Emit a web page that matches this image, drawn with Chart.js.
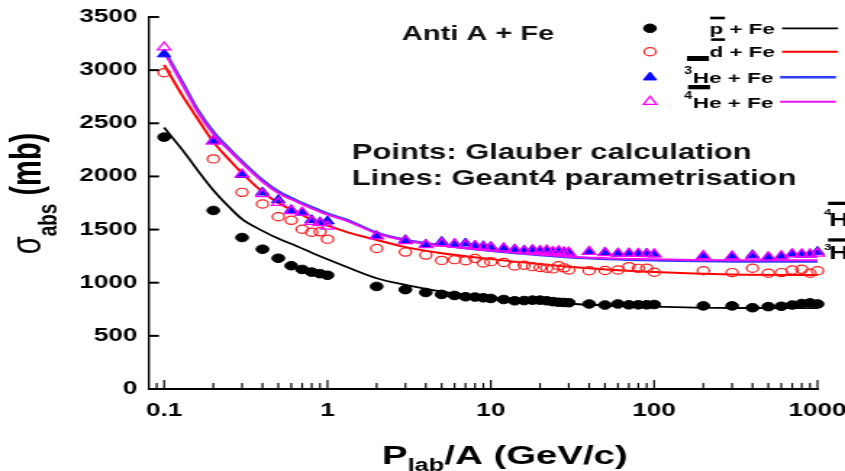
<!DOCTYPE html>
<html>
<head>
<meta charset="utf-8">
<script src="https://cdn.jsdelivr.net/npm/chart.js@4.4.0/dist/chart.umd.min.js"></script>
<style>
	html, body { margin: 0; padding: 0; background: #fff; overflow: hidden; }
</style>
</head>
<body>
<canvas id="chart" width="583" height="471" style="display:block;width:845px;height:471px"></canvas>
<script>
// Glauber calculation points, P_lab/A in GeV/c
const momenta = [0.1, 0.2, 0.3, 0.4, 0.5, 0.6, 0.7, 0.8, 0.9, 1,
	2, 3, 4, 5, 6, 7, 8, 9, 10,
	12, 14, 16, 18, 20, 22, 24, 26, 28, 30,
	40, 50, 60, 70, 80, 90, 100,
	200, 300, 400, 500, 600, 700, 800, 900, 1000];

const pbarGlauber = [2370, 1680, 1425, 1315, 1230, 1160, 1125, 1100, 1085, 1070,
	965, 935, 908, 890, 880, 868, 865, 858, 852,
	842, 830, 832, 836, 836, 830, 822, 816, 814, 812,
	800, 790, 800, 792, 792, 792, 795,
	782, 782, 765, 775, 778, 790, 804, 810, 800];

const dbarGlauber = [2975, 2165, 1850, 1741, 1621, 1587, 1503, 1475, 1479, 1410,
	1322, 1288, 1260, 1210, 1217, 1207, 1228, 1185, 1198,
	1190, 1157, 1165, 1151, 1143, 1136, 1130, 1160, 1140, 1120,
	1113, 1115, 1120, 1151, 1135, 1136, 1098,
	1113, 1095, 1136, 1089, 1095, 1120, 1126, 1089, 1113];

const he3Glauber = [3150, 2335, 2015, 1850, 1778, 1685, 1662, 1590, 1570, 1578,
	1440, 1402, 1360, 1386, 1365, 1371, 1350, 1345, 1339,
	1325, 1315, 1305, 1310, 1300, 1300, 1292, 1295, 1288, 1283,
	1290, 1285, 1275, 1276, 1274, 1275, 1268,
	1252, 1248, 1261, 1242, 1250, 1268, 1266, 1266, 1292];

const he4Glauber = [3215, 2330, 2020, 1835, 1752, 1675, 1660, 1574, 1562, 1530,
	1437, 1392, 1355, 1370, 1360, 1355, 1345, 1335, 1330,
	1324, 1310, 1300, 1305, 1300, 1305, 1290, 1298, 1285, 1285,
	1292, 1280, 1275, 1275, 1272, 1270, 1268,
	1252, 1248, 1250, 1240, 1250, 1270, 1268, 1268, 1275];

// Geant4 parametrisation
const curveMomenta = [0.1, 0.13, 0.16, 0.2, 0.25, 0.3, 0.4, 0.5, 0.65, 0.8, 1, 1.3, 2, 3, 5, 10, 30, 100, 300, 1000];
const pbarGeant = [2460, 2245, 2060, 1870, 1712, 1598, 1488, 1415, 1343, 1282, 1220, 1150, 1042, 979, 916, 858, 802, 775, 762, 760];
const dbarGeant = [3050, 2755, 2545, 2325, 2158, 2030, 1855, 1749, 1662, 1592, 1538, 1478, 1402, 1335, 1277, 1222, 1150, 1100, 1077, 1073];
const he3Geant = [3190, 2880, 2630, 2420, 2262, 2140, 1965, 1858, 1772, 1712, 1650, 1595, 1472, 1402, 1352, 1300, 1240, 1210, 1200, 1198];
const he4Geant = [3175, 2860, 2610, 2400, 2245, 2125, 1950, 1845, 1760, 1700, 1640, 1585, 1465, 1398, 1350, 1302, 1245, 1220, 1212, 1212];

const xTickValues = [0.09, 0.1, 0.2, 0.3, 0.4, 0.5, 0.6, 0.7, 0.8, 0.9,
	1, 2, 3, 4, 5, 6, 7, 8, 9,
	10, 20, 30, 40, 50, 60, 70, 80, 90,
	100, 200, 300, 400, 500, 600, 700, 800, 900, 1000];
const xLabelValues = [0.1, 1, 10, 100, 1000];
const yTickValues = [0, 500, 1000, 1500, 2000, 2500, 3000, 3500];

// the picture is horizontally stretched: canvas is 583 wide, shown at 845
const stretch = 845 / 583;
const px = (x) => x / stretch;
const boldFont = (size) => `bold ${size}px "Liberation Sans", Arial, sans-serif`;

Chart.defaults.font.family = '"Liberation Sans", Arial, sans-serif';
Chart.defaults.color = "#000";

const toPoints = (xs, ys) => xs.map((x, i) => ({ x, y: ys[i] }));

function pointSet(values, style, color, fill, radius, border) {
	return {
		data: toPoints(momenta, values),
		showLine: false,
		pointStyle: style,
		pointRadius: radius,
		pointBorderWidth: border,
		pointBorderColor: color,
		pointBackgroundColor: fill,
		clip: false
	};
}

function curveSet(values, color, width) {
	return {
		data: toPoints(curveMomenta, values),
		showLine: true,
		borderColor: color,
		borderWidth: width,
		pointRadius: 0,
		cubicInterpolationMode: "monotone",
		clip: false
	};
}

const datasets = [
	pointSet(he4Glauber, "triangle", "#ff00ff", "rgba(0,0,0,0)", 5.3, 1.3),
	pointSet(he3Glauber, "triangle", "#0a0aff", "#0a0aff", 5.3, 1),
	pointSet(dbarGlauber, "circle", "#ff1a1a", "rgba(0,0,0,0)", 4.1, 1.2),
	pointSet(pbarGlauber, "circle", "#000", "#000", 4.3, 1),
	curveSet(he4Geant, "#ee10ee", 2),
	curveSet(he3Geant, "#2b3bff", 2.4),
	curveSet(dbarGeant, "#ff0000", 2),
	curveSet(pbarGeant, "#000", 1.8)
];

function drawRuns(ctx, runs, x, y) {
	ctx.textAlign = "left";
	ctx.textBaseline = "alphabetic";
	let cx = x;
	runs.forEach((run) => {
		ctx.font = run.font;
		ctx.fillText(run.text, cx, y + (run.dy || 0));
		cx += ctx.measureText(run.text).width;
	});
}

function runsWidth(ctx, runs) {
	return runs.reduce((sum, run) => {
		ctx.font = run.font;
		return sum + ctx.measureText(run.text).width;
	}, 0);
}

// legend rows: [points dataset, curve dataset], positions in page pixels
const legendRows = [
	{ points: 3, curve: 7, text: "p + Fe", sup: null, y: 28.3, base: 34.3, right: 775, line: [782, 838], bar: [710, 725, 16.7, 2.6] },
	{ points: 2, curve: 6, text: "d + Fe", sup: null, y: 51.7, base: 56.7, right: 775, line: [782, 838], bar: [711, 725, 38.3, 2.6] },
	{ points: 1, curve: 5, text: "He + Fe", sup: "3", y: 77.3, base: 83.3, right: 773.3, line: [780, 836], bar: [687, 709, 56, 5] },
	{ points: 0, curve: 4, text: "He + Fe", sup: "4", y: 101.7, base: 108.3, right: 773.3, line: [780, 836], bar: [688, 710, 85, 4.3] }
];

const decorations = {
	id: "decorations",
	afterDraw(chart) {
		const { ctx, chartArea: area } = chart;
		const xScale = chart.scales.x;
		const yScale = chart.scales.y;
		ctx.save();

		// inward tick marks
		ctx.strokeStyle = "#000";
		ctx.lineWidth = 1.2;
		xTickValues.forEach((v) => {
			const p = xScale.getPixelForValue(v);
			const len = xLabelValues.includes(v) ? 9 : 6;
			ctx.beginPath();
			ctx.moveTo(p, area.bottom);
			ctx.lineTo(p, area.bottom - len);
			ctx.stroke();
		});
		ctx.lineWidth = 2;
		yTickValues.forEach((v) => {
			const p = yScale.getPixelForValue(v);
			ctx.beginPath();
			ctx.moveTo(area.left, p);
			ctx.lineTo(area.left + px(10), p);
			ctx.stroke();
		});

		ctx.fillStyle = "#000";

		// x title
		drawRuns(ctx, [
			{ text: "P", font: boldFont(26.5) },
			{ text: "lab", font: boldFont(17.5), dy: 6.5 },
			{ text: "/A (GeV/c)", font: boldFont(26.5) }
		], px(382), 464);

		// y title, rotated
		const yRuns = [
			{ text: "\u03c3", font: '29px "Liberation Sans", Arial, sans-serif' },
			{ text: "abs", font: boldFont(19), dy: 11 },
			{ text: " (mb)", font: boldFont(29) }
		];
		ctx.save();
		ctx.translate(px(41), 193.5);
		ctx.rotate(-Math.PI / 2);
		drawRuns(ctx, yRuns, -runsWidth(ctx, yRuns) / 2, 0);
		ctx.restore();

		// annotations
		ctx.fillStyle = "#111";
		drawRuns(ctx, [{ text: "Anti A + Fe", font: boldFont(20) }], px(402), 39.5);
		drawRuns(ctx, [{ text: "Points: Glauber calculation", font: boldFont(21.3) }], px(352), 158.5);
		drawRuns(ctx, [{ text: "Lines: Geant4 parametrisation", font: boldFont(21.3) }], px(352), 185);

		// legend
		legendRows.forEach((row) => {
			const pts = chart.data.datasets[row.points];
			const crv = chart.data.datasets[row.curve];
			ctx.fillStyle = pts.pointBackgroundColor;
			ctx.strokeStyle = pts.pointBorderColor;
			ctx.lineWidth = pts.pointBorderWidth;
			Chart.helpers.drawPoint(ctx, {
				pointStyle: pts.pointStyle,
				radius: pts.pointRadius,
				borderWidth: pts.pointBorderWidth,
				rotation: 0
			}, px(650), row.y);

			ctx.strokeStyle = crv.borderColor;
			ctx.lineWidth = crv.borderWidth;
			ctx.beginPath();
			ctx.moveTo(px(row.line[0]), row.y);
			ctx.lineTo(px(row.line[1]), row.y);
			ctx.stroke();

			ctx.fillStyle = "#000";
			ctx.font = boldFont(15.5);
			const w = ctx.measureText(row.text).width;
			const start = px(row.right) - w;
			drawRuns(ctx, [{ text: row.text, font: boldFont(15.5) }], start, row.base);
			if (row.sup) {
				ctx.font = boldFont(10);
				const sw = ctx.measureText(row.sup).width;
				drawRuns(ctx, [{ text: row.sup, font: boldFont(10) }], start - sw - 0.5, row.base - 9.3);
			}
			ctx.fillRect(px(row.bar[0]), row.bar[2], px(row.bar[1]) - px(row.bar[0]), row.bar[3]);
		});

		// labels cut off at the right edge (from the neighbouring panel)
		ctx.fillStyle = "#000";
		drawRuns(ctx, [{ text: "4", font: boldFont(9) }], px(824), 215);
		drawRuns(ctx, [{ text: "H", font: boldFont(19) }], px(829), 226);
		ctx.fillRect(px(828), 201.7, px(845) - px(828), 3.3);
		drawRuns(ctx, [{ text: "3", font: boldFont(9) }], px(824), 250);
		drawRuns(ctx, [{ text: "H", font: boldFont(19) }], px(829), 258.5);
		ctx.fillRect(px(828), 238.3, px(845) - px(828), 3.3);

		ctx.restore();
	}
};

new Chart(document.getElementById("chart"), {
	type: "scatter",
	data: { datasets },
	options: {
		responsive: false,
		animation: false,
		devicePixelRatio: 1,
		layout: { padding: { left: 0, top: 17, right: 583 - px(817.5), bottom: 0 } },
		plugins: {
			legend: { display: false },
			tooltip: { enabled: false }
		},
		scales: {
			x: {
				type: "logarithmic",
				min: 0.0808,
				max: 1000,
				grid: { display: false, drawTicks: false },
				border: { display: true, color: "#000", width: 2 },
				afterBuildTicks: (scale) => {
					scale.ticks = xTickValues.map((v) => ({ value: v }));
				},
				afterFit: (scale) => {
					scale.height = 82;
					scale.paddingLeft = 0;
					scale.paddingRight = 0;
				},
				ticks: {
					autoSkip: false,
					maxRotation: 0,
					padding: 11,
					font: { size: 18, weight: "bold" },
					callback: (value) => (xLabelValues.includes(value) ? String(value) : "")
				}
			},
			y: {
				min: 0,
				max: 3500,
				grid: { display: false, drawTicks: false },
				border: { display: true, color: "#000", width: 1.4 },
				afterFit: (scale) => {
					scale.width = px(149);
					scale.paddingTop = 0;
					scale.paddingBottom = 0;
				},
				ticks: {
					stepSize: 500,
					padding: 8,
					font: { size: 18, weight: "bold" },
					callback: (value) => String(value)
				}
			}
		}
	},
	plugins: [decorations]
});
</script>
</body>
</html>
